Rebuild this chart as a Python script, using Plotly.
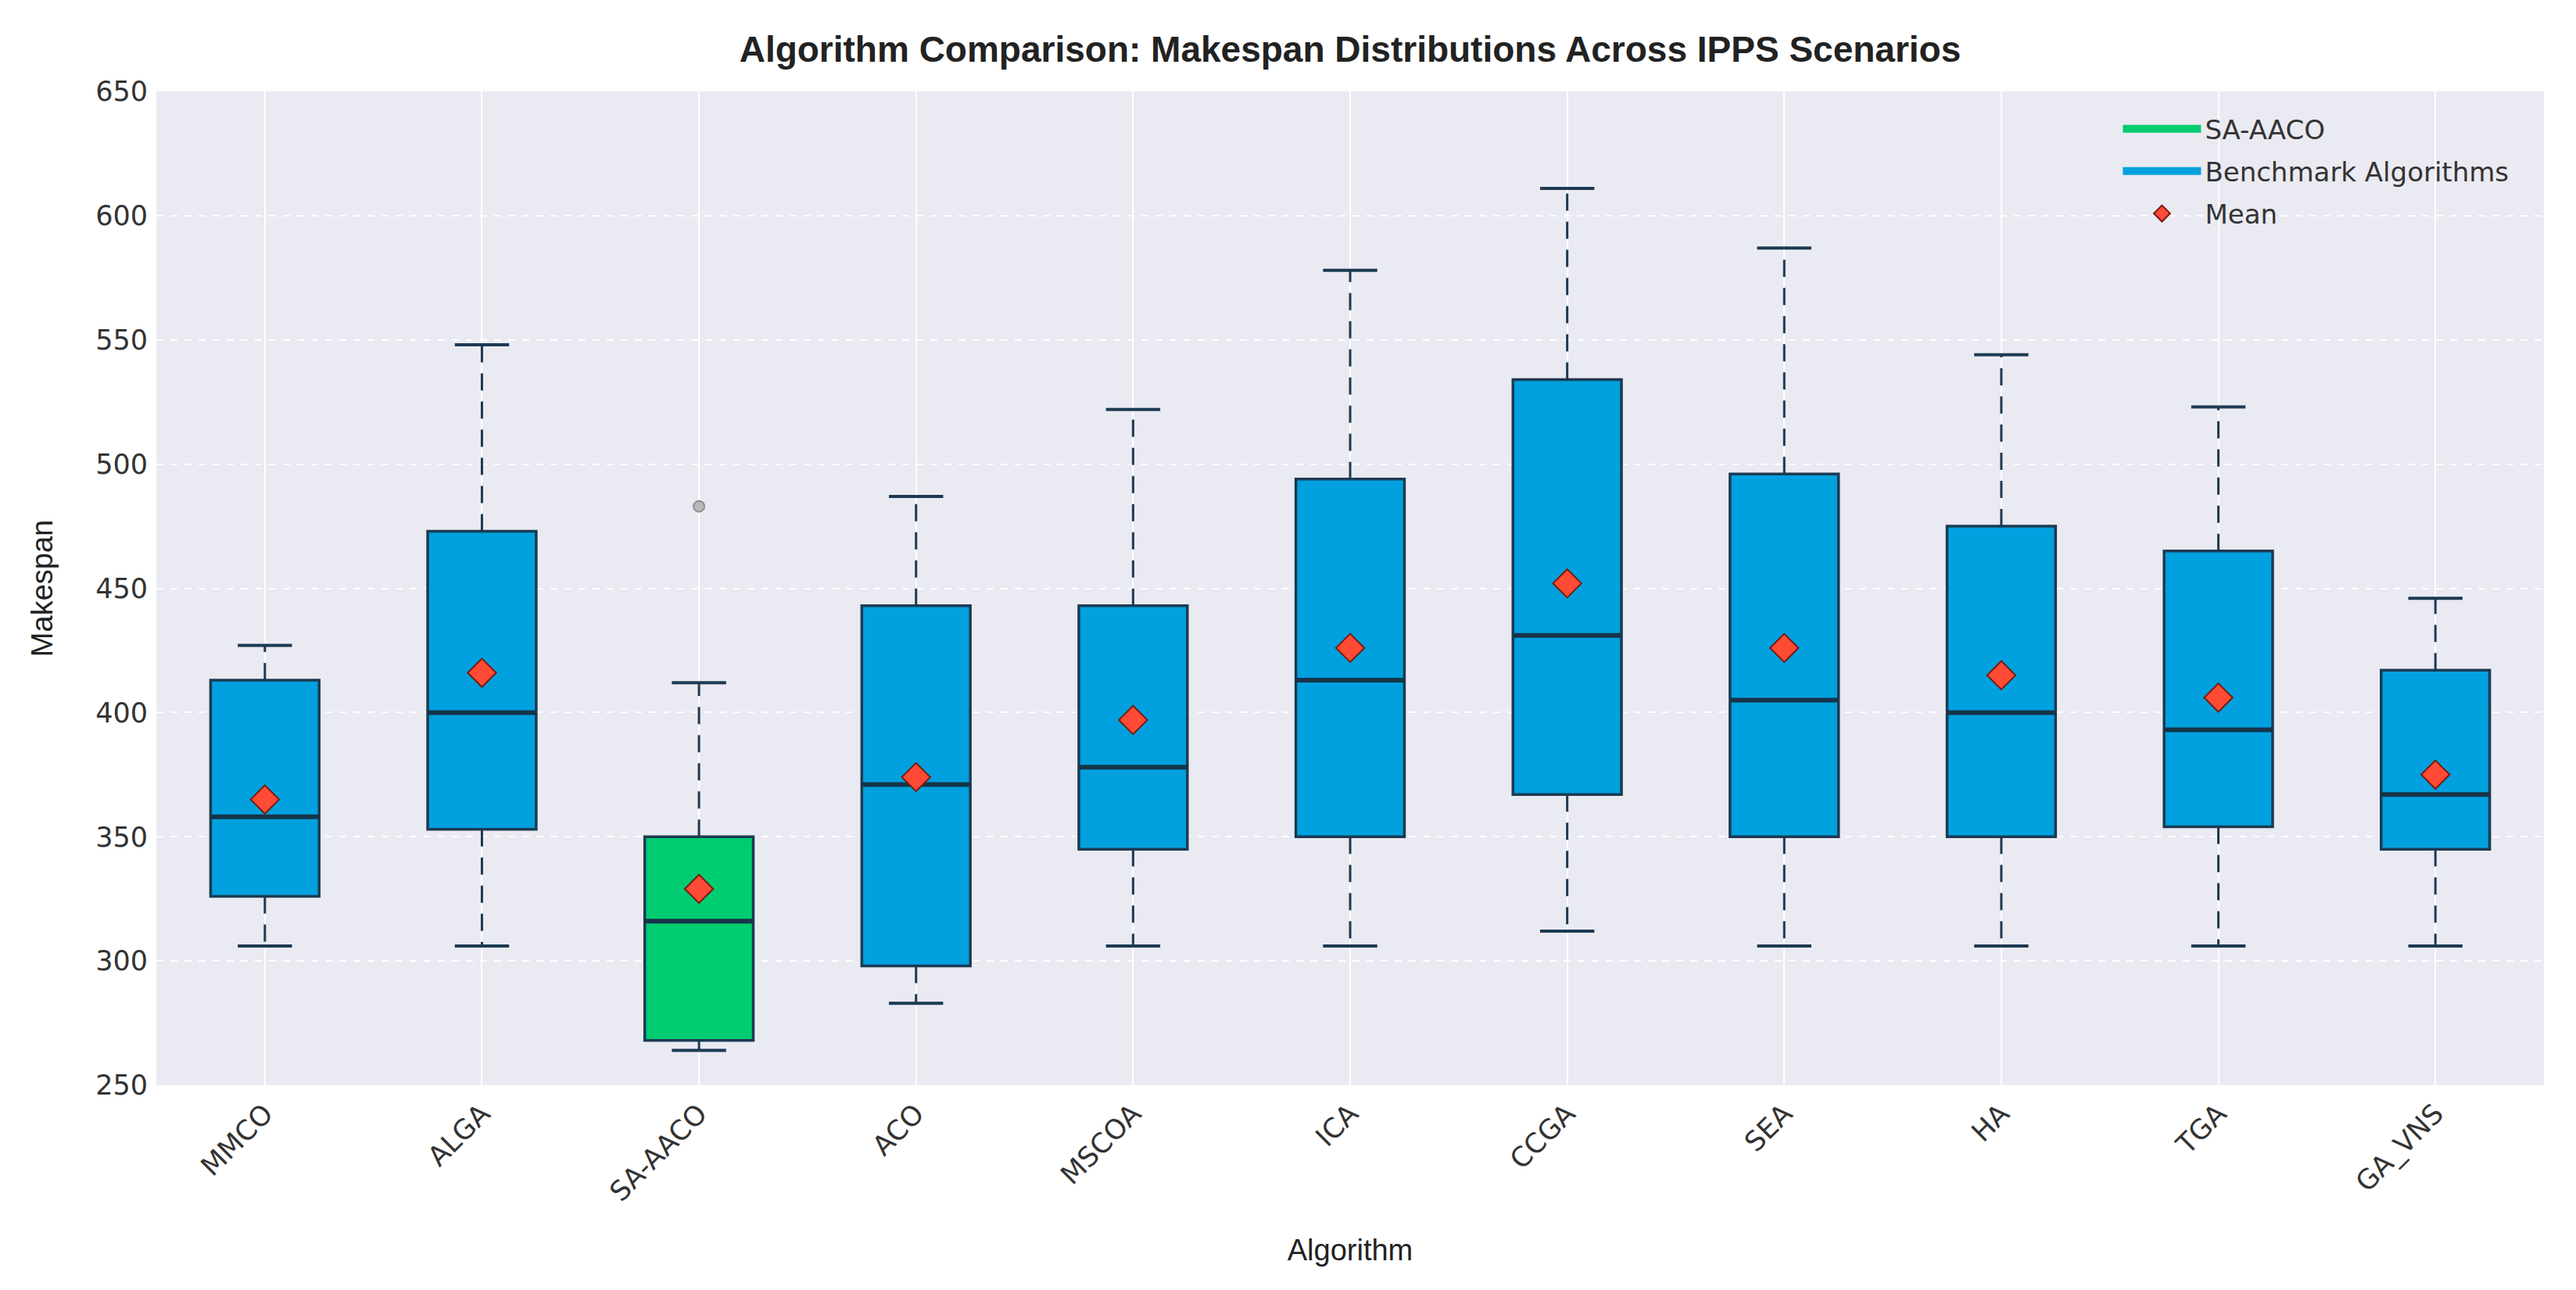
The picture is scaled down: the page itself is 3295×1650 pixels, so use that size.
import plotly.graph_objects as go

# values
algorithms = ["MMCO", "ALGA", "SA-AACO", "ACO", "MSCOA", "ICA", "CCGA", "SEA", "HA", "TGA", "GA_VNS"]
lower_whisker = [306, 306, 264, 283, 306, 306, 312, 306, 306, 306, 306]
q1 = [326, 353, 268, 298, 345, 350, 367, 350, 350, 354, 345]
median = [358, 400, 316, 371, 378, 413, 431, 405, 400, 393, 367]
q3 = [413, 473, 350, 443, 443, 494, 534, 496, 475, 465, 417]
upper_whisker = [427, 548, 412, 487, 522, 578, 611, 587, 544, 523, 446]
means = [365, 416, 329, 374, 397, 426, 452, 426, 415, 406, 375]
outlier_alg = ["SA-AACO"]
outlier_val = [483]

highlight = "SA-AACO"
GREEN = "#00CC71"
BLUE = "#00A1DE"
EDGE = "#1C3A52"
MEAN_RED = "#FF4B36"

FONT = "DejaVu Sans"
FONT2 = "Liberation Sans"

# the page body has an 8px margin, so the figure is a bit smaller than the window
W, H = 3279, 1634


def init_plot(title):
    fig = go.Figure()
    fig.update_layout(
        width=W, height=H,
        title=dict(text=f"<b>{title}</b>", x=0.5, xref="paper", xanchor="center",
                   y=1 - 55 / H, yanchor="middle", yref="container",
                   font=dict(family=FONT2, size=46, color="#222222")),
        paper_bgcolor="white",
        plot_bgcolor="#EAEAF2",
        margin=dict(l=192, r=33, t=109, b=254),
        boxmode="overlay",
        showlegend=True,
        legend=dict(
            x=0.822, y=0.985, xanchor="left", yanchor="top",
            bgcolor="rgba(0,0,0,0)",
            font=dict(family=FONT, size=34, color="#333333"),
            itemwidth=100, tracegroupgap=7,
        ),
        font=dict(family=FONT, color="#333333"),
    )
    return fig


fig = init_plot("Algorithm Comparison: Makespan Distributions Across IPPS Scenarios")

half_box = 0.25
half_cap = 0.125

# boxes (whiskers drawn separately so they can be dashed)
for i, name in enumerate(algorithms):
    fig.add_trace(go.Box(
        x=[i], q1=[q1[i]], median=[median[i]], q3=[q3[i]],
        lowerfence=[q1[i]], upperfence=[q3[i]],
        width=2 * half_box, whiskerwidth=0,
        fillcolor=GREEN if name == highlight else BLUE,
        line=dict(color=EDGE, width=3.5),
        boxpoints=False, showlegend=False, hoverinfo="skip",
    ))

# dashed whiskers
wx, wy = [], []
for i in range(len(algorithms)):
    wx += [i, i, None, i, i, None]
    wy += [q3[i], upper_whisker[i], None, q1[i], lower_whisker[i], None]
fig.add_trace(go.Scatter(x=wx, y=wy, mode="lines", line=dict(color=EDGE, width=3, dash="22px,14px"),
                         showlegend=False, hoverinfo="skip"))

# caps
cx, cy = [], []
for i in range(len(algorithms)):
    cx += [i - half_cap, i + half_cap, None, i - half_cap, i + half_cap, None]
    cy += [upper_whisker[i], upper_whisker[i], None, lower_whisker[i], lower_whisker[i], None]
fig.add_trace(go.Scatter(x=cx, y=cy, mode="lines", line=dict(color=EDGE, width=4),
                         showlegend=False, hoverinfo="skip"))

# medians
mx, my = [], []
for i in range(len(algorithms)):
    mx += [i - half_box, i + half_box, None]
    my += [median[i], median[i], None]
fig.add_trace(go.Scatter(x=mx, y=my, mode="lines", line=dict(color="#163448", width=6),
                         showlegend=False, hoverinfo="skip"))

# outliers
fig.add_trace(go.Scatter(
    x=[algorithms.index(a) for a in outlier_alg], y=outlier_val, mode="markers",
    marker=dict(symbol="circle", size=14, color="#B8B8B8", line=dict(color="#909090", width=2)),
    showlegend=False, hoverinfo="skip"))

# legend entries
fig.add_trace(go.Scatter(x=[None], y=[None], mode="lines", name=highlight, legendgroup="g1",
                         line=dict(color=GREEN, width=22)))
fig.add_trace(go.Scatter(x=[None], y=[None], mode="lines", name="Benchmark Algorithms", legendgroup="g2",
                         line=dict(color=BLUE, width=22)))

# means
fig.add_trace(go.Scatter(
    x=list(range(len(algorithms))), y=means, mode="markers", name="Mean", legendgroup="g3",
    marker=dict(symbol="diamond", size=28, color=MEAN_RED, line=dict(color="#7A1A10", width=2)),
    hovertemplate="%{y:.1f}<extra></extra>"))

fig.update_xaxes(
    range=[-0.5, len(algorithms) - 0.5],
    tickmode="array", tickvals=list(range(len(algorithms))), ticktext=algorithms,
    tickangle=-45, ticks="", ticklabelstandoff=8,
    tickfont=dict(family=FONT, size=35, color="#333333"),
    showgrid=True, gridcolor="white", gridwidth=2, griddash="solid",
    zeroline=False, showline=False, automargin=False,
    title=dict(text="Algorithm", font=dict(family=FONT2, size=38, color="#222222"), standoff=42),
)
fig.update_yaxes(
    range=[250, 650], dtick=50, ticks="", ticklabelstandoff=10,
    tickfont=dict(family=FONT, size=35, color="#333333"),
    showgrid=True, gridcolor="white", gridwidth=2, griddash="dash",
    zeroline=False, showline=False, automargin=False,
    title=dict(text="Makespan", font=dict(family=FONT2, size=38, color="#222222"), standoff=42),
)

fig.write_html("out.html")
